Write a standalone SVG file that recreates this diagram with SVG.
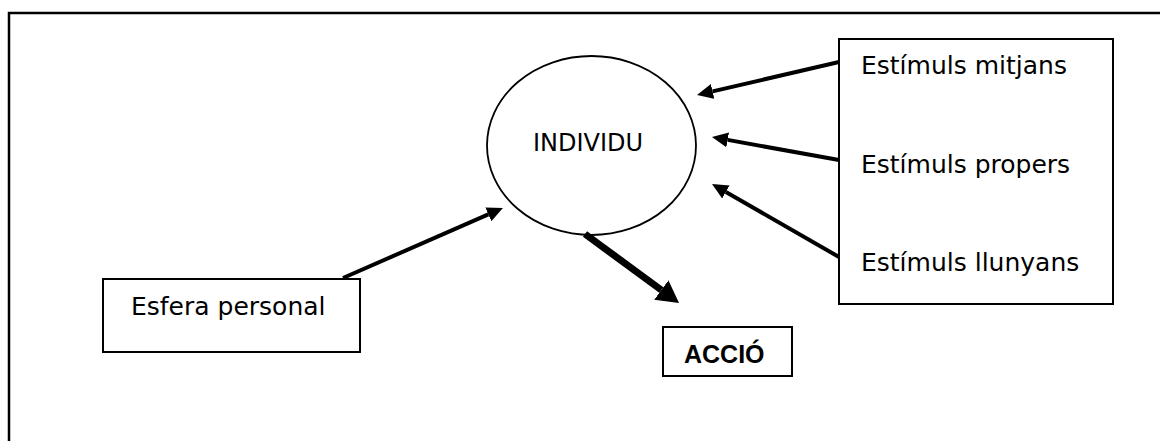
<svg xmlns="http://www.w3.org/2000/svg" width="1160" height="441" viewBox="0 0 1160 441">
  <style>
    .box { fill: #fff; stroke: #000; stroke-width: 2; }
    .lbl { font-family: "DejaVu Sans", "Liberation Sans", sans-serif; font-size: 25px; fill: #000; }
    .bold { font-family: "Liberation Sans", Arial, sans-serif; font-size: 25px; font-weight: bold; fill: #000; }
    .arrow { stroke: #000; stroke-width: 4; fill: none; marker-end: url(#head); }
    .arrow-lg { stroke: #000; stroke-width: 7; fill: none; marker-end: url(#head-lg); }
  </style>
  <defs>
    <marker id="head" markerUnits="userSpaceOnUse" markerWidth="16" markerHeight="15" viewBox="0 0 16 15" refX="0" refY="7.5" orient="auto">
      <path d="M0,0 L16,7.5 L0,15 Z" fill="#000"/>
    </marker>
    <marker id="head-lg" markerUnits="userSpaceOnUse" markerWidth="22" markerHeight="24" viewBox="0 0 22 24" refX="0" refY="12" orient="auto">
      <path d="M0,0 L22,12 L0,24 Z" fill="#000"/>
    </marker>
  </defs>

  <rect width="1160" height="441" fill="#fff"/>

  <!-- outer frame (only top and left edges fall inside the canvas) -->
  <path d="M9,441 V13 H1160" fill="none" stroke="#000" stroke-width="2.5"/>

  <g id="individu">
    <ellipse cx="591.5" cy="145.5" rx="104.5" ry="89.5" fill="#fff" stroke="#000" stroke-width="1.8"/>
    <text class="lbl" x="533" y="151" style="font-size:24px">INDIVIDU</text>
  </g>

  <g id="estimuls">
    <rect class="box" x="839" y="39" width="274" height="265"/>
    <text class="lbl" x="861" y="74">Estímuls mitjans</text>
    <text class="lbl" x="861" y="173">Estímuls propers</text>
    <text class="lbl" x="861" y="271">Estímuls llunyans</text>
  </g>

  <g id="esfera-personal">
    <rect class="box" x="103" y="279" width="257" height="73"/>
    <text class="lbl" x="131" y="315">Esfera personal</text>
  </g>

  <g id="accio">
    <rect class="box" x="663" y="327" width="129" height="49"/>
    <text class="bold" x="684" y="363">ACCIÓ</text>
  </g>

  <g id="connectors">
    <line class="arrow" x1="839" y1="62" x2="712.6" y2="91.4"/>
    <line class="arrow" x1="839" y1="160" x2="727.7" y2="139.9"/>
    <line class="arrow" x1="839" y1="257" x2="725.9" y2="192"/>
    <line class="arrow" x1="343" y1="278" x2="488.3" y2="214.4"/>
    <line class="arrow-lg" x1="585" y1="234" x2="661.3" y2="290"/>
  </g>
</svg>
